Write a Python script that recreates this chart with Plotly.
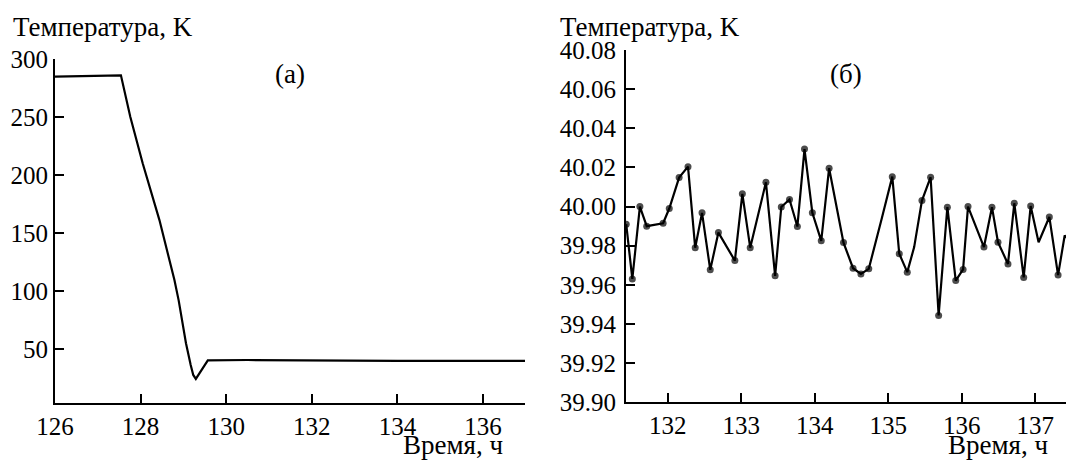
import plotly.graph_objects as go

# ---- Panel (a): cooling curve ----
time_a = [126.0, 127.54, 127.76, 128.05, 128.44, 128.79, 128.89, 129.06, 129.17,
          129.23, 129.29, 129.40, 129.52, 129.57, 130.5, 132.0, 134.0, 137.0]
temp_a = [285.0, 286.2, 250.3, 210.2, 161.4, 109.7, 92.0, 55.2, 36.5,
          27.9, 24.5, 30.7, 37.9, 40.5, 40.8, 40.3, 40.0, 40.0]

# ---- Panel (б): temperature stabilisation ----
time_b = [131.433, 131.516, 131.619, 131.712, 131.935, 132.019, 132.153, 132.274,
          132.372, 132.465, 132.577, 132.688, 132.912, 133.014, 133.121, 133.335,
          133.460, 133.544, 133.656, 133.763, 133.860, 133.967, 134.088, 134.195,
          134.391, 134.521, 134.628, 134.735, 134.910, 135.055, 135.150, 135.259,
          135.353, 135.459, 135.577, 135.686, 135.805, 135.919, 136.019, 136.086,
          136.303, 136.412, 136.494, 136.630, 136.716, 136.844, 136.939, 137.047,
          137.193, 137.312, 137.402, 137.460]
temp_b = [39.9910, 39.9630, 40.0000, 39.9900, 39.9915, 39.9990, 40.0148, 40.0204,
          39.9790, 39.9968, 39.9677, 39.9867, 39.9724, 40.0065, 39.9790, 40.0124,
          39.9646, 39.9998, 40.0036, 39.9898, 40.0294, 39.9968, 39.9825, 40.0196,
          39.9816, 39.9685, 39.9656, 39.9682, 39.9937, 40.0153, 39.9759, 39.9665,
          39.9793, 40.0031, 40.0150, 39.9444, 39.9997, 39.9622, 39.9679, 40.0000,
          39.9793, 39.9997, 39.9818, 39.9707, 40.0017, 39.9638, 40.0003, 39.9818,
          39.9947, 39.9650, 39.9852, 39.9830]
# vertices of the polyline drawn without a dot
undotted_b = [134.910, 135.353, 137.047, 137.402, 137.460]

ticks_a_x = [126, 128, 130, 132, 134, 136]
ticks_a_y = [50, 100, 150, 200, 250, 300]
ticks_b_x = [132, 133, 134, 135, 136, 137]
ticks_b_y = [39.90, 39.92, 39.94, 39.96, 39.98, 40.00, 40.02, 40.04, 40.06, 40.08]

W, H = 1066, 462
FONT = "Liberation Serif"

marker_sizes = [0 if t in undotted_b else 7 for t in time_b]

fig = go.Figure()
fig.add_trace(go.Scatter(x=time_a, y=temp_a, mode="lines",
                         line=dict(color="black", width=2.2),
                         xaxis="x", yaxis="y", showlegend=False))
fig.add_trace(go.Scatter(x=time_b, y=temp_b, mode="lines+markers",
                         line=dict(color="black", width=2.2),
                         marker=dict(color="black", size=marker_sizes,
                                     line=dict(width=0)),
                         xaxis="x2", yaxis="y2", showlegend=False))

axis_common = dict(showgrid=False, zeroline=False, showline=True, automargin=False,
                   linecolor="black", linewidth=2, ticks="inside",
                   ticklen=9, tickwidth=1.5, tickcolor="black",
                   tickfont=dict(family=FONT, size=25, color="black"))

def px_x(p):
    return p / W

def px_y(p):
    return 1 - p / H

fig.update_layout(
    width=W, height=H,
    margin=dict(l=0, r=0, t=0, b=0, pad=0, autoexpand=False),
    paper_bgcolor="white", plot_bgcolor="white",
    font=dict(family=FONT, size=22, color="black"),
    xaxis=dict(domain=[px_x(55), px_x(525)], range=[126.0, 136.98],
               tickvals=ticks_a_x, anchor="y", **axis_common),
    yaxis=dict(domain=[px_y(402.7), px_y(59.3)], range=[4.0, 300],
               tickvals=ticks_a_y, anchor="x", **axis_common),
    xaxis2=dict(domain=[px_x(626), 1.0], range=[131.43, 137.42],
                tickvals=ticks_b_x, anchor="y2", **axis_common),
    yaxis2=dict(domain=[px_y(402.3), px_y(50)], range=[39.90, 40.08],
                tickvals=ticks_b_y, tickformat=".2f", anchor="x2",
                ticklabelstandoff=3, **axis_common),
)

ann_font = dict(family=FONT, size=27, color="black")
annotations = [
    dict(text="Температура, K", x=px_x(11), y=px_y(27), xanchor="left", yanchor="middle"),
    dict(text="Температура, K", x=px_x(558), y=px_y(27), xanchor="left", yanchor="middle"),
    dict(text="Время, ч", x=px_x(505), y=px_y(445), xanchor="right", yanchor="middle"),
    dict(text="Время, ч", x=px_x(1050), y=px_y(445), xanchor="right", yanchor="middle"),
    dict(text="(а)", x=px_x(290), y=px_y(74), xanchor="center", yanchor="middle"),
    dict(text="(б)", x=px_x(846), y=px_y(74), xanchor="center", yanchor="middle"),
]
for a in annotations:
    fig.add_annotation(xref="paper", yref="paper", showarrow=False, font=ann_font, **a)

fig.write_html("out.html")
